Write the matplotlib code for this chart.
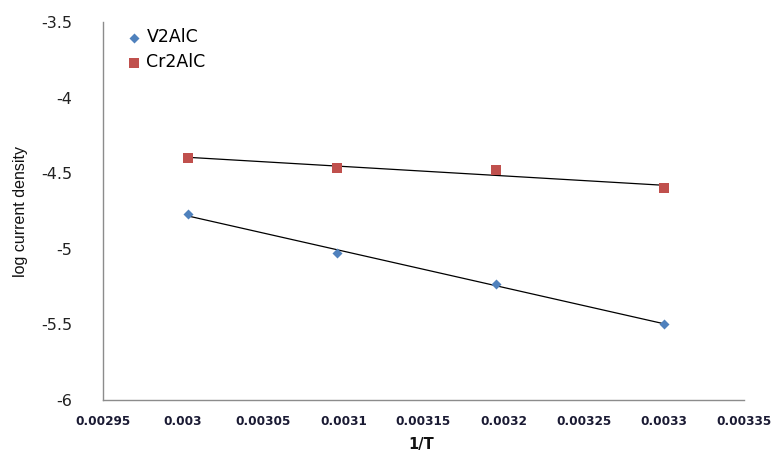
import numpy as np
import matplotlib
matplotlib.use("Agg")
import matplotlib.pyplot as plt

# 1/T values (T = 333, 323, 313, 303 K)
inv_T = [0.003003, 0.003096, 0.003195, 0.003300]
v2alc = [-4.770, -5.030, -5.233, -5.495]
cr2alc = [-4.399, -4.464, -4.481, -4.598]

x_ticks = [0.00295, 0.003, 0.00305, 0.0031, 0.00315, 0.0032, 0.00325, 0.0033, 0.00335]
x_labels = ["0.00295", "0.003", "0.00305", "0.0031", "0.00315", "0.0032", "0.00325", "0.0033", "0.00335"]
y_ticks = [-6, -5.5, -5, -4.5, -4, -3.5]
y_labels = ["-6", "-5.5", "-5", "-4.5", "-4", "-3.5"]

fig = plt.figure(figsize=(7.73, 4.53), dpi=100)
ax = fig.add_axes([0.1332, 0.117, 0.8293, 0.8344])

# linear trendlines
xs = np.array(inv_T)
for ys in (v2alc, cr2alc):
    k, b = np.polyfit(xs, ys, 1)
    ax.plot([xs[0], xs[-1]], [k * xs[0] + b, k * xs[-1] + b], color="black", lw=0.9, zorder=2)

ax.scatter(inv_T, v2alc, marker="D", s=26, color="#4F81BD", label="V2AlC", zorder=3, linewidths=0)
ax.scatter(inv_T, cr2alc, marker="s", s=62, color="#C0504D", label="Cr2AlC", zorder=3, linewidths=0)

ax.set_xlim(0.00295, 0.00335)
ax.set_ylim(-6, -3.5)
ax.set_xticks(x_ticks)
ax.set_xticklabels(x_labels, family="DejaVu Sans", fontsize=8.7, fontweight="bold", color="#1a1a33")
ax.set_yticks(y_ticks)
ax.set_yticklabels(y_labels, family="DejaVu Sans", fontsize=11.5, color="#222222")
ax.tick_params(axis="x", length=0, pad=11)
ax.tick_params(axis="y", length=0, pad=22)

for side in ("top", "right"):
    ax.spines[side].set_visible(False)
for side in ("left", "bottom"):
    ax.spines[side].set_color("#8c8c8c")
    ax.spines[side].set_linewidth(1.0)

ax.set_xlabel("1/T", family="DejaVu Sans", fontsize=10.5, fontweight="bold", color="#111111")
ax.xaxis.set_label_coords(0.496, -0.098)
ax.set_ylabel("log current density", family="Liberation Sans", fontsize=11.5, color="#111111")
ax.yaxis.set_label_coords(-0.117, 0.5)

leg = ax.legend(loc="upper left", bbox_to_anchor=(0.0, 1.02), frameon=False,
                prop={"family": "DejaVu Sans", "size": 12.5}, handletextpad=-0.3,
                labelspacing=0.4, borderpad=0.3, markerscale=1.0)

fig.savefig("out.png", dpi=100)
